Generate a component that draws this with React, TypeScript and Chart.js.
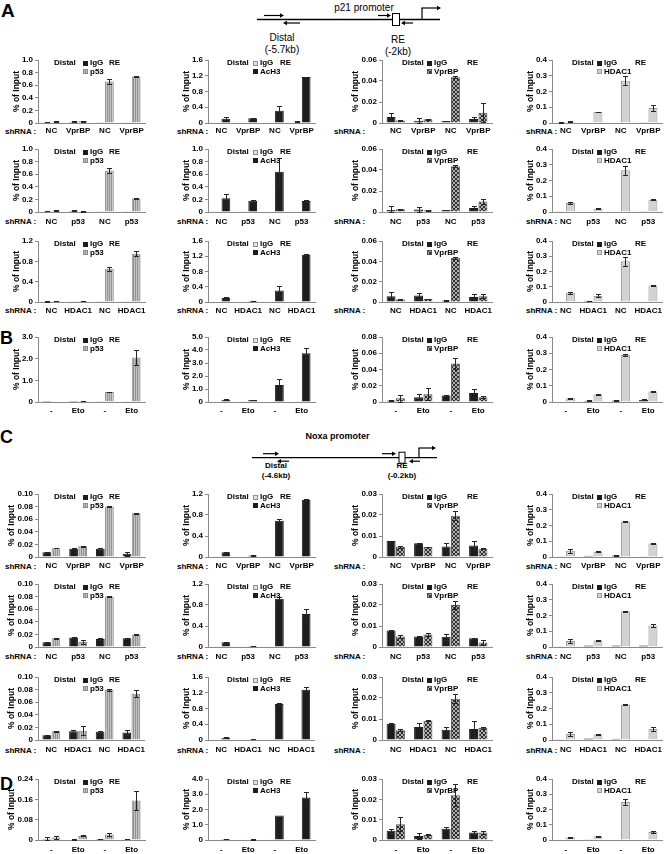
import React, { useEffect, useRef } from "react";
import { Chart, registerables } from "chart.js";

Chart.register(...registerables);

const FAMILY = "'Liberation Sans', Arial, Helvetica, sans-serif";

// ---------- categories ----------
const catsVprBP = ["NC", "VprBP", "NC", "VprBP"];
const catsP53 = ["NC", "p53", "NC", "p53"];
const catsHDAC1 = ["NC", "HDAC1", "NC", "HDAC1"];
const catsEto = ["-", "Eto", "-", "Eto"];

// ---------- y tick labels ----------
const ticks1p0 = ["0", "0.2", "0.4", "0.6", "0.8", "1.0"];
const ticks1p2 = ["0", "0.4", "0.8", "1.2"];
const ticks1p6 = ["0", "0.4", "0.8", "1.2", "1.6"];
const ticks3 = ["0", "1.0", "2.0", "3.0"];
const ticks4 = ["0", "1.0", "2.0", "3.0", "4.0"];
const ticks5 = ["0", "1.0", "2.0", "3.0", "4.0", "5.0"];
const ticks006 = ["0", "0.02", "0.04", "0.06"];
const ticks008 = ["0", "0.02", "0.04", "0.06", "0.08"];
const ticks003 = ["0", "0.01", "0.02", "0.03"];
const ticks010 = ["0", "0.02", "0.04", "0.06", "0.08", "0.10"];
const ticks024 = ["0", "0.08", "0.16", "0.24"];
const ticks04 = ["0", "0.1", "0.2", "0.3", "0.4"];

// ---------- data: A, row 1 (shRNA VprBP) ----------
const A1_p53_igg = [0.010, 0.020, 0.005, 0.005];
const A1_p53_iggErr = [0.002, 0.004, 0, 0];
const A1_p53_ab = [0.020, 0.030, 0.660, 0.740];
const A1_p53_abErr = [0.004, 0.008, 0.040, 0.010];
const A1_AcH3_igg = [0.020, 0.020, 0.020, 0.040];
const A1_AcH3_iggErr = [0, 0, 0, 0.003];
const A1_AcH3_ab = [0.110, 0.120, 0.310, 1.170];
const A1_AcH3_abErr = [0.040, 0.010, 0.120, 0.010];
const A1_VprBP_igg = [0.0057, 0.0022, 0.0020, 0.0038];
const A1_VprBP_iggErr = [0.0040, 0.0025, 0.0003, 0.0020];
const A1_VprBP_ab = [0.0025, 0.0035, 0.0435, 0.0098];
const A1_VprBP_abErr = [0.0004, 0.0004, 0.0008, 0.0093];
const A1_HDAC1_igg = [0.004, 0.003, 0.003, 0.004];
const A1_HDAC1_iggErr = [0.002, 0, 0, 0];
const A1_HDAC1_ab = [0.007, 0.070, 0.268, 0.095];
const A1_HDAC1_abErr = [0.003, 0.003, 0.028, 0.020];

// ---------- A, row 2 (shRNA p53) ----------
const A2_p53_igg = [0.010, 0.020, 0.005, 0.005];
const A2_p53_iggErr = [0.002, 0.004, 0, 0];
const A2_p53_ab = [0.020, 0.010, 0.660, 0.215];
const A2_p53_abErr = [0.004, 0.003, 0.040, 0.015];
const A2_AcH3_igg = [0.010, 0.010, 0.010, 0.010];
const A2_AcH3_iggErr = [0, 0, 0, 0];
const A2_AcH3_ab = [0.220, 0.180, 0.640, 0.175];
const A2_AcH3_abErr = [0.070, 0.015, 0.220, 0.010];
const A2_VprBP_igg = [0.0020, 0.0023, 0.0020, 0.0039];
const A2_VprBP_iggErr = [0.0035, 0.0025, 0.0003, 0.0020];
const A2_VprBP_ab = [0.0026, 0.0016, 0.0435, 0.0100];
const A2_VprBP_abErr = [0.0004, 0.0003, 0.0008, 0.0025];
const A2_HDAC1_igg = [0.004, 0.003, 0.003, 0.004];
const A2_HDAC1_iggErr = [0, 0, 0, 0];
const A2_HDAC1_ab = [0.057, 0.021, 0.265, 0.077];
const A2_HDAC1_abErr = [0.005, 0.003, 0.030, 0.003];

// ---------- A, row 3 (shRNA HDAC1) ----------
const A3_p53_igg = [0.010, 0.005, 0.005, 0.005];
const A3_p53_iggErr = [0.002, 0, 0, 0];
const A3_p53_ab = [0.020, 0.020, 0.655, 0.950];
const A3_p53_abErr = [0.004, 0.004, 0.040, 0.050];
const A3_AcH3_igg = [0.010, 0.010, 0.010, 0.010];
const A3_AcH3_iggErr = [0, 0, 0, 0];
const A3_AcH3_ab = [0.105, 0.030, 0.300, 1.240];
const A3_AcH3_abErr = [0.030, 0.005, 0.110, 0.010];
const A3_VprBP_igg = [0.0057, 0.0063, 0.0015, 0.0050];
const A3_VprBP_iggErr = [0.0040, 0.0030, 0.0003, 0.0025];
const A3_VprBP_ab = [0.0025, 0.0030, 0.0435, 0.0057];
const A3_VprBP_abErr = [0.0003, 0.0003, 0.0008, 0.0020];
const A3_HDAC1_igg = [0.004, 0.008, 0.003, 0.004];
const A3_HDAC1_iggErr = [0, 0.001, 0, 0];
const A3_HDAC1_ab = [0.060, 0.040, 0.268, 0.108];
const A3_HDAC1_abErr = [0.005, 0.010, 0.030, 0.003];

// ---------- B (etoposide) ----------
const B_p53_igg = [0.005, 0.005, 0.010, 0.030];
const B_p53_iggErr = [0, 0, 0, 0];
const B_p53_ab = [0.010, 0.030, 0.460, 2.050];
const B_p53_abErr = [0, 0.005, 0.020, 0.350];
const B_AcH3_igg = [0.020, 0.020, 0.010, 0.020];
const B_AcH3_iggErr = [0, 0, 0, 0];
const B_AcH3_ab = [0.180, 0.150, 1.300, 3.750];
const B_AcH3_abErr = [0.030, 0.020, 0.500, 0.400];
const B_VprBP_igg = [0.0020, 0.0058, 0.0080, 0.0110];
const B_VprBP_iggErr = [0.0010, 0.0035, 0.0004, 0.0050];
const B_VprBP_ab = [0.0046, 0.0096, 0.0475, 0.0060];
const B_VprBP_abErr = [0.0040, 0.0075, 0.0065, 0.0010];
const B_HDAC1_igg = [0.003, 0.008, 0.009, 0.013];
const B_HDAC1_iggErr = [0, 0.002, 0.001, 0.003];
const B_HDAC1_ab = [0.023, 0.046, 0.290, 0.065];
const B_HDAC1_abErr = [0.003, 0.005, 0.005, 0.003];

// ---------- C, row 1 (shRNA VprBP) ----------
const C1_p53_igg = [0.0075, 0.0130, 0.0130, 0.0053];
const C1_p53_iggErr = [0.0005, 0.0005, 0.0015, 0.0030];
const C1_p53_ab = [0.0140, 0.0170, 0.0800, 0.0695];
const C1_p53_abErr = [0.0005, 0.0005, 0.0010, 0.0005];
const C1_AcH3_igg = [0.005, 0.010, 0.010, 0.010];
const C1_AcH3_iggErr = [0, 0, 0, 0];
const C1_AcH3_ab = [0.090, 0.030, 0.690, 1.090];
const C1_AcH3_abErr = [0.010, 0.005, 0.030, 0.010];
const C1_VprBP_igg = [0.0076, 0.0065, 0.0050, 0.0055];
const C1_VprBP_iggErr = [0.0002, 0.0004, 0.0015, 0.0020];
const C1_VprBP_ab = [0.0049, 0.0048, 0.0197, 0.0039];
const C1_VprBP_abErr = [0.0005, 0.0002, 0.0020, 0.0002];
const C1_HDAC1_igg = [0.005, 0.008, 0.010, 0.004];
const C1_HDAC1_iggErr = [0, 0, 0.001, 0];
const C1_HDAC1_ab = [0.040, 0.034, 0.225, 0.085];
const C1_HDAC1_abErr = [0.012, 0.002, 0.003, 0.002];

// ---------- C, row 2 (shRNA p53) ----------
const C2_p53_igg = [0.0074, 0.0150, 0.0126, 0.0137];
const C2_p53_iggErr = [0.0005, 0.0005, 0.0015, 0.0005];
const C2_p53_ab = [0.0137, 0.0080, 0.0800, 0.0195];
const C2_p53_abErr = [0.0005, 0.0035, 0.0010, 0.0005];
const C2_AcH3_igg = [0.005, 0.005, 0.005, 0.005];
const C2_AcH3_iggErr = [0, 0, 0, 0];
const C2_AcH3_ab = [0.090, 0.020, 0.917, 0.628];
const C2_AcH3_abErr = [0.010, 0.005, 0.030, 0.100];
const C2_VprBP_igg = [0.0078, 0.0050, 0.0049, 0.0042];
const C2_VprBP_iggErr = [0.0002, 0.0002, 0.0015, 0.0003];
const C2_VprBP_ab = [0.0050, 0.0060, 0.0200, 0.0021];
const C2_VprBP_abErr = [0.0005, 0.0006, 0.0020, 0.0012];
const C2_HDAC1_igg = [0.004, 0.010, 0.010, 0.010];
const C2_HDAC1_iggErr = [0, 0, 0, 0];
const C2_HDAC1_ab = [0.038, 0.042, 0.227, 0.136];
const C2_HDAC1_abErr = [0.012, 0.003, 0.003, 0.010];

// ---------- C, row 3 (shRNA HDAC1) ----------
const C3_p53_igg = [0.0074, 0.0137, 0.0130, 0.0120];
const C3_p53_iggErr = [0.0005, 0.0020, 0.0015, 0.0040];
const C3_p53_ab = [0.0137, 0.0145, 0.0795, 0.0735];
const C3_p53_abErr = [0.0005, 0.0070, 0.0010, 0.0060];
const C3_AcH3_igg = [0.005, 0.005, 0.005, 0.005];
const C3_AcH3_iggErr = [0, 0, 0, 0];
const C3_AcH3_ab = [0.060, 0.020, 0.915, 1.275];
const C3_AcH3_abErr = [0.010, 0.005, 0.030, 0.060];
const C3_VprBP_igg = [0.0077, 0.0062, 0.0049, 0.0052];
const C3_VprBP_iggErr = [0.0002, 0.0020, 0.0015, 0.0040];
const C3_VprBP_ab = [0.0047, 0.0092, 0.0197, 0.0057];
const C3_VprBP_abErr = [0.0003, 0.0002, 0.0020, 0.0005];
const C3_HDAC1_igg = [0.004, 0.010, 0.008, 0.003];
const C3_HDAC1_iggErr = [0, 0, 0, 0];
const C3_HDAC1_ab = [0.038, 0.035, 0.226, 0.070];
const C3_HDAC1_abErr = [0.012, 0.006, 0.003, 0.010];

// ---------- D (etoposide) ----------
const D_p53_igg = [0.004, 0.002, 0.004, 0.003];
const D_p53_iggErr = [0.009, 0.001, 0.001, 0.001];
const D_p53_ab = [0.010, 0.016, 0.022, 0.155];
const D_p53_abErr = [0.005, 0.002, 0.006, 0.038];
const D_AcH3_igg = [0.010, 0.010, 0.010, 0.010];
const D_AcH3_iggErr = [0, 0, 0, 0];
const D_AcH3_ab = [0.060, 0.040, 1.600, 2.780];
const D_AcH3_abErr = [0.010, 0.010, 0, 0.400];
const D_VprBP_igg = [0.0045, 0.0020, 0.0055, 0.0037];
const D_VprBP_iggErr = [0.0010, 0.0015, 0.0008, 0.0006];
const D_VprBP_ab = [0.0077, 0.0026, 0.0220, 0.0037];
const D_VprBP_abErr = [0.0035, 0.0002, 0.0055, 0.0008];
const D_HDAC1_igg = [0.004, 0.002, 0.004, 0.003];
const D_HDAC1_iggErr = [0, 0, 0, 0];
const D_HDAC1_ab = [0.017, 0.024, 0.250, 0.053];
const D_HDAC1_abErr = [0.002, 0.005, 0.022, 0.004];

// ---------- layout (pixel grid of the figure) ----------
const colAxis = [38, 208, 382, 552];
const colRight = [145, 315, 492, 662];
const colShRNA = [5, 177, 334, 526];
const rowTop = [60, 149, 241, 337, 494, 584, 677, 779];
const rowZero = [123, 212, 302, 402, 557, 647, 740, 840];
const rowLabel = [131, 221.5, 310.5, 410.5, 566, 656.5, 750, 850];
const shRNARows = [0, 1, 2, 4, 5, 6];

type Kind = "p53" | "AcH3" | "VprBP" | "HDAC1";
const colKinds: Kind[] = ["p53", "AcH3", "VprBP", "HDAC1"];

interface Spec {
  row: number; col: number; kind: Kind; cats: string[]; ticks: string[];
  igg: number[]; iggErr: number[]; ab: number[]; abErr: number[];
}

function mk(row: number, col: number, cats: string[], ticks: string[], igg: number[], iggErr: number[], ab: number[], abErr: number[]): Spec {
  return { row, col, kind: colKinds[col], cats, ticks, igg, iggErr, ab, abErr };
}

const PANELS: Spec[] = [
  mk(0, 0, catsVprBP, ticks1p0, A1_p53_igg, A1_p53_iggErr, A1_p53_ab, A1_p53_abErr),
  mk(0, 1, catsVprBP, ticks1p6, A1_AcH3_igg, A1_AcH3_iggErr, A1_AcH3_ab, A1_AcH3_abErr),
  mk(0, 2, catsVprBP, ticks006, A1_VprBP_igg, A1_VprBP_iggErr, A1_VprBP_ab, A1_VprBP_abErr),
  mk(0, 3, catsVprBP, ticks04, A1_HDAC1_igg, A1_HDAC1_iggErr, A1_HDAC1_ab, A1_HDAC1_abErr),
  mk(1, 0, catsP53, ticks1p0, A2_p53_igg, A2_p53_iggErr, A2_p53_ab, A2_p53_abErr),
  mk(1, 1, catsP53, ticks1p0, A2_AcH3_igg, A2_AcH3_iggErr, A2_AcH3_ab, A2_AcH3_abErr),
  mk(1, 2, catsP53, ticks006, A2_VprBP_igg, A2_VprBP_iggErr, A2_VprBP_ab, A2_VprBP_abErr),
  mk(1, 3, catsP53, ticks04, A2_HDAC1_igg, A2_HDAC1_iggErr, A2_HDAC1_ab, A2_HDAC1_abErr),
  mk(2, 0, catsHDAC1, ticks1p2, A3_p53_igg, A3_p53_iggErr, A3_p53_ab, A3_p53_abErr),
  mk(2, 1, catsHDAC1, ticks1p6, A3_AcH3_igg, A3_AcH3_iggErr, A3_AcH3_ab, A3_AcH3_abErr),
  mk(2, 2, catsHDAC1, ticks006, A3_VprBP_igg, A3_VprBP_iggErr, A3_VprBP_ab, A3_VprBP_abErr),
  mk(2, 3, catsHDAC1, ticks04, A3_HDAC1_igg, A3_HDAC1_iggErr, A3_HDAC1_ab, A3_HDAC1_abErr),
  mk(3, 0, catsEto, ticks3, B_p53_igg, B_p53_iggErr, B_p53_ab, B_p53_abErr),
  mk(3, 1, catsEto, ticks5, B_AcH3_igg, B_AcH3_iggErr, B_AcH3_ab, B_AcH3_abErr),
  mk(3, 2, catsEto, ticks008, B_VprBP_igg, B_VprBP_iggErr, B_VprBP_ab, B_VprBP_abErr),
  mk(3, 3, catsEto, ticks04, B_HDAC1_igg, B_HDAC1_iggErr, B_HDAC1_ab, B_HDAC1_abErr),
  mk(4, 0, catsVprBP, ticks010, C1_p53_igg, C1_p53_iggErr, C1_p53_ab, C1_p53_abErr),
  mk(4, 1, catsVprBP, ticks1p2, C1_AcH3_igg, C1_AcH3_iggErr, C1_AcH3_ab, C1_AcH3_abErr),
  mk(4, 2, catsVprBP, ticks003, C1_VprBP_igg, C1_VprBP_iggErr, C1_VprBP_ab, C1_VprBP_abErr),
  mk(4, 3, catsVprBP, ticks04, C1_HDAC1_igg, C1_HDAC1_iggErr, C1_HDAC1_ab, C1_HDAC1_abErr),
  mk(5, 0, catsP53, ticks010, C2_p53_igg, C2_p53_iggErr, C2_p53_ab, C2_p53_abErr),
  mk(5, 1, catsP53, ticks1p2, C2_AcH3_igg, C2_AcH3_iggErr, C2_AcH3_ab, C2_AcH3_abErr),
  mk(5, 2, catsP53, ticks003, C2_VprBP_igg, C2_VprBP_iggErr, C2_VprBP_ab, C2_VprBP_abErr),
  mk(5, 3, catsP53, ticks04, C2_HDAC1_igg, C2_HDAC1_iggErr, C2_HDAC1_ab, C2_HDAC1_abErr),
  mk(6, 0, catsHDAC1, ticks010, C3_p53_igg, C3_p53_iggErr, C3_p53_ab, C3_p53_abErr),
  mk(6, 1, catsHDAC1, ticks1p6, C3_AcH3_igg, C3_AcH3_iggErr, C3_AcH3_ab, C3_AcH3_abErr),
  mk(6, 2, catsHDAC1, ticks003, C3_VprBP_igg, C3_VprBP_iggErr, C3_VprBP_ab, C3_VprBP_abErr),
  mk(6, 3, catsHDAC1, ticks04, C3_HDAC1_igg, C3_HDAC1_iggErr, C3_HDAC1_ab, C3_HDAC1_abErr),
  mk(7, 0, catsEto, ticks024, D_p53_igg, D_p53_iggErr, D_p53_ab, D_p53_abErr),
  mk(7, 1, catsEto, ticks4, D_AcH3_igg, D_AcH3_iggErr, D_AcH3_ab, D_AcH3_abErr),
  mk(7, 2, catsEto, ticks003, D_VprBP_igg, D_VprBP_iggErr, D_VprBP_ab, D_VprBP_abErr),
  mk(7, 3, catsEto, ticks04, D_HDAC1_igg, D_HDAC1_iggErr, D_HDAC1_ab, D_HDAC1_abErr),
];

// ---------- styles ----------
const DARK = "#1d1d1d";

function stripePattern(): CanvasPattern | string {
  const c = document.createElement("canvas");
  c.width = 2; c.height = 2;
  const g = c.getContext("2d");
  if (!g) return "#aaaaaa";
  g.fillStyle = "#c2c2c2"; g.fillRect(0, 0, 2, 2);
  g.fillStyle = "#939393"; g.fillRect(1, 0, 1, 2);
  return g.createPattern(c, "repeat") || "#aaaaaa";
}

function hatchPattern(): CanvasPattern | string {
  const c = document.createElement("canvas");
  c.width = 4; c.height = 4;
  const g = c.getContext("2d");
  if (!g) return "#666666";
  g.fillStyle = "#b0b0b0"; g.fillRect(0, 0, 4, 4);
  g.fillStyle = "#2e2e2e";
  for (let i = 0; i < 4; i++) { g.fillRect(i, i, 1, 1); g.fillRect(3 - i, i, 1, 1); }
  return g.createPattern(c, "repeat") || "#666666";
}

function styleFor(kind: Kind) {
  if (kind === "AcH3") return { igg: { bg: "#e3e3e3", bd: "#8e8e8e" }, ab: { bg: DARK, bd: DARK }, name: "AcH3", re: 72, distal: 19 };
  if (kind === "p53") return { igg: { bg: DARK, bd: DARK }, ab: { bg: stripePattern(), bd: "#8a8a8a" }, name: "p53", re: 71, distal: 16 };
  if (kind === "VprBP") return { igg: { bg: DARK, bd: DARK }, ab: { bg: hatchPattern(), bd: "#555555" }, name: "VprBP", re: 85, distal: 20 };
  return { igg: { bg: DARK, bd: DARK }, ab: { bg: "#d2d2d2", bd: "#9a9a9a" }, name: "HDAC1", re: 83, distal: 20 };
}

const YW = 36, PT = 8, PR = 6, XH = 18;
const TICK_FONT = `bold 8px ${FAMILY}`;

function textWidth(s: string, font: string): number {
  const c = document.createElement("canvas");
  const g = c.getContext("2d");
  if (!g) return s.length * 4.5;
  g.font = font;
  return g.measureText(s).width;
}

function Panel({ spec }: { spec: Spec }) {
  const ref = useRef<HTMLCanvasElement>(null);
  const axisX = colAxis[spec.col], axisR = colRight[spec.col];
  const top = rowTop[spec.row], zero = rowZero[spec.row];
  const left = axisX - YW, ctop = top - PT;
  const w = YW + (axisR - axisX) + PR;
  const h = PT + (zero - top) + XH;
  const xPad = rowLabel[spec.row] - zero - 4.8;

  useEffect(() => {
    const canvas = ref.current;
    if (!canvas) return;
    const st = styleFor(spec.kind);
    const tickVals = spec.ticks.map((t) => parseFloat(t));
    const errs = [spec.iggErr, spec.abErr];
    const labW = Math.max(...spec.ticks.map((t) => textWidth(t, TICK_FONT)));
    // title centre sits ~6px left of the widest tick label
    const titleCenterFromAxis = 5 + labW + 5.5;
    const titlePad = Math.max(0, YW - titleCenterFromAxis - 5.1);

    const errorBars = {
      id: "errorBars",
      afterDatasetsDraw(chart: any) {
        const ctx = chart.ctx;
        const ys = chart.scales.y;
        ctx.save();
        ctx.strokeStyle = "#262626";
        ctx.lineWidth = 1;
        chart.data.datasets.forEach((ds: any, d: number) => {
          const meta = chart.getDatasetMeta(d);
          meta.data.forEach((bar: any, i: number) => {
            const e = errs[d][i];
            if (!e) return;
            const v = ds.data[i];
            const x = Math.round(bar.x) + 0.5;
            const yt = Math.round(ys.getPixelForValue(v + e)) + 0.5;
            const yb = Math.round(ys.getPixelForValue(Math.max(0, v - e))) + 0.5;
            ctx.beginPath();
            ctx.moveTo(x, yt); ctx.lineTo(x, yb);
            ctx.moveTo(x - 2.5, yt); ctx.lineTo(x + 2.5, yt);
            ctx.moveTo(x - 2.5, yb); ctx.lineTo(x + 2.5, yb);
            ctx.stroke();
          });
        });
        ctx.restore();
      },
    };

    const legend = {
      id: "panelLegend",
      afterDraw(chart: any) {
        const ctx = chart.ctx;
        const x0 = chart.chartArea.left, y0 = chart.chartArea.top;
        ctx.save();
        ctx.font = `bold 8px ${FAMILY}`;
        ctx.fillStyle = "#000";
        ctx.textBaseline = "middle";
        ctx.textAlign = "left";
        ctx.fillText("Distal", x0 + st.distal, y0 + 3);
        ctx.fillText("RE", x0 + st.re, y0 + 3);
        const ds = chart.data.datasets;
        const rows = [y0 + 3, y0 + 11.5];
        ds.forEach((d: any, k: number) => {
          const by = Math.round(rows[k] - 2.5);
          const bx = Math.round(x0 + 45);
          ctx.fillStyle = d.backgroundColor;
          ctx.fillRect(bx, by, 5, 5);
          ctx.strokeStyle = d.borderColor;
          ctx.lineWidth = 1;
          ctx.strokeRect(bx + 0.5, by + 0.5, 4, 4);
          ctx.fillStyle = "#000";
          ctx.fillText(d.label, bx + 7, rows[k]);
        });
        ctx.restore();
      },
    };

    const chart = new Chart(canvas, {
      type: "bar",
      data: {
        labels: spec.cats,
        datasets: [
          { label: "IgG", data: spec.igg, backgroundColor: st.igg.bg as any, borderColor: st.igg.bd, borderWidth: 1 },
          { label: st.name, data: spec.ab, backgroundColor: st.ab.bg as any, borderColor: st.ab.bd, borderWidth: 1 },
        ],
      },
      options: {
        animation: false,
        responsive: false,
        maintainAspectRatio: false,
        devicePixelRatio: 1,
        events: [],
        layout: { padding: { top: PT, right: PR, left: 0, bottom: 0 } },
        plugins: { legend: { display: false }, tooltip: { enabled: false }, title: { display: false } },
        datasets: { bar: { categoryPercentage: 0.68, barPercentage: 0.96 } },
        scales: {
          x: {
            grid: { display: false, drawTicks: false, tickLength: 0 },
            border: { display: true, color: "#8a8a8a", width: 1 },
            ticks: { color: "#000", font: { family: FAMILY, size: 8, weight: "bold" }, padding: xPad, maxRotation: 0, autoSkip: false },
            afterFit: (s: any) => { s.height = XH; },
          },
          y: {
            min: 0,
            max: tickVals[tickVals.length - 1],
            grid: { drawOnChartArea: false, drawTicks: true, tickLength: 3, color: "#8a8a8a" },
            border: { display: true, color: "#8a8a8a", width: 1 },
            ticks: {
              color: "#000",
              font: { family: FAMILY, size: 8, weight: "bold" },
              padding: 2,
              callback: (_v: any, i: number) => spec.ticks[i],
            },
            afterBuildTicks: (s: any) => { s.ticks = tickVals.map((v) => ({ value: v })); },
            afterFit: (s: any) => { s.width = YW; },
            title: {
              display: true,
              text: "% of Input",
              color: "#000",
              font: { family: FAMILY, size: 8.5, weight: "bold" },
              padding: { top: titlePad, bottom: 0 },
            },
          },
        },
      } as any,
      plugins: [errorBars, legend],
    });
    return () => chart.destroy();
  }, []);

  return (
    <canvas
      ref={ref}
      width={w}
      height={h}
      style={{ position: "absolute", left, top: ctop, width: w, height: h }}
    />
  );
}

function Arrow({ x1, x2, y }: { x1: number; x2: number; y: number }) {
  const dir = x2 > x1 ? 1 : -1;
  const tip = x2;
  const base = x2 - dir * 4;
  return (
    <g>
      <line x1={x1} y1={y} x2={base} y2={y} stroke="#000" strokeWidth={1.2} />
      <polygon points={`${tip},${y} ${base},${y - 2.2} ${base},${y + 2.2}`} fill="#000" />
    </g>
  );
}

function Promoter({ title, titleX, titleY, titleSize, weight, lineY, x0, x1, f1, r1, f2, box, r2, tss, distal, re, labSize, labY1, labY2 }: any) {
  return (
    <g fontWeight={weight}>
      <text x={titleX} y={titleY} fontSize={titleSize} textAnchor="middle" dominantBaseline="central">{title}</text>
      <line x1={x0} y1={lineY} x2={x1} y2={lineY} stroke="#000" strokeWidth={1.3} />
      <Arrow x1={f1[0]} x2={f1[1]} y={lineY - 4} />
      <Arrow x1={r1[0]} x2={r1[1]} y={lineY + 3.5} />
      <Arrow x1={f2[0]} x2={f2[1]} y={lineY - 4} />
      <rect x={box[0]} y={lineY - box[1] / 2} width={box[2]} height={box[1]} fill="#fff" stroke="#000" strokeWidth={1} />
      <Arrow x1={r2[0]} x2={r2[1]} y={lineY + 3.5} />
      <line x1={tss[0]} y1={lineY} x2={tss[0]} y2={tss[1]} stroke="#000" strokeWidth={1.2} />
      <Arrow x1={tss[0] - 0.6} x2={tss[2]} y={tss[1]} />
      <text x={distal[0]} y={labY1} fontSize={labSize} textAnchor="middle" dominantBaseline="central">Distal</text>
      <text x={distal[0]} y={labY2} fontSize={labSize} textAnchor="middle" dominantBaseline="central">{distal[1]}</text>
      <text x={re[0]} y={labY1 + re[2]} fontSize={labSize} textAnchor="middle" dominantBaseline="central">RE</text>
      <text x={re[0]} y={labY2 + re[2]} fontSize={labSize} textAnchor="middle" dominantBaseline="central">{re[1]}</text>
    </g>
  );
}

export default function App() {
  return (
    <div style={{ position: "absolute", left: 0, top: 0, width: 664, height: 854, overflow: "hidden", background: "#fff" }}>
      <svg width={664} height={854} style={{ position: "absolute", left: 0, top: 0 }} fontFamily={FAMILY} fontWeight="bold">
        <text x={1} y={17} fontSize={19}>A</text>
        <text x={0} y={344} fontSize={18}>B</text>
        <text x={0} y={443} fontSize={18}>C</text>
        <text x={0} y={790} fontSize={18}>D</text>
        <Promoter
          title="p21 promoter" titleX={364} titleY={7} titleSize={10} weight="normal" lineY={19.5}
          x0={257} x1={440} f1={[264, 284]} r1={[300, 283]} f2={[378, 391]} box={[392.5, 12, 7]} r2={[413, 401]}
          tss={[422, 8, 441]} distal={[282, "(-5.7kb)"]} re={[398, "(-2kb)", 2]} labSize={10} labY1={37} labY2={49.5}
        />
        <Promoter
          title="Noxa promoter" titleX={337.5} titleY={436} titleSize={9} weight="bold" lineY={457.7}
          x0={252} x1={437} f1={[263, 279]} r1={[289, 277]} f2={[382, 396]} box={[399, 11, 6]} r2={[420, 409]}
          tss={[419, 448, 436]} distal={[276, "(-4.6kb)"]} re={[402, "(-0.2kb)", 0]} labSize={8} labY1={465} labY2={475}
        />
        {shRNARows.map((r) =>
          colShRNA.map((x, c) => (
            <text key={`s${r}-${c}`} x={x} y={rowLabel[r]} fontSize={8} dominantBaseline="central">shRNA :</text>
          ))
        )}
      </svg>
      {PANELS.map((p) => (
        <Panel key={`${p.row}-${p.col}`} spec={p} />
      ))}
    </div>
  );
}
